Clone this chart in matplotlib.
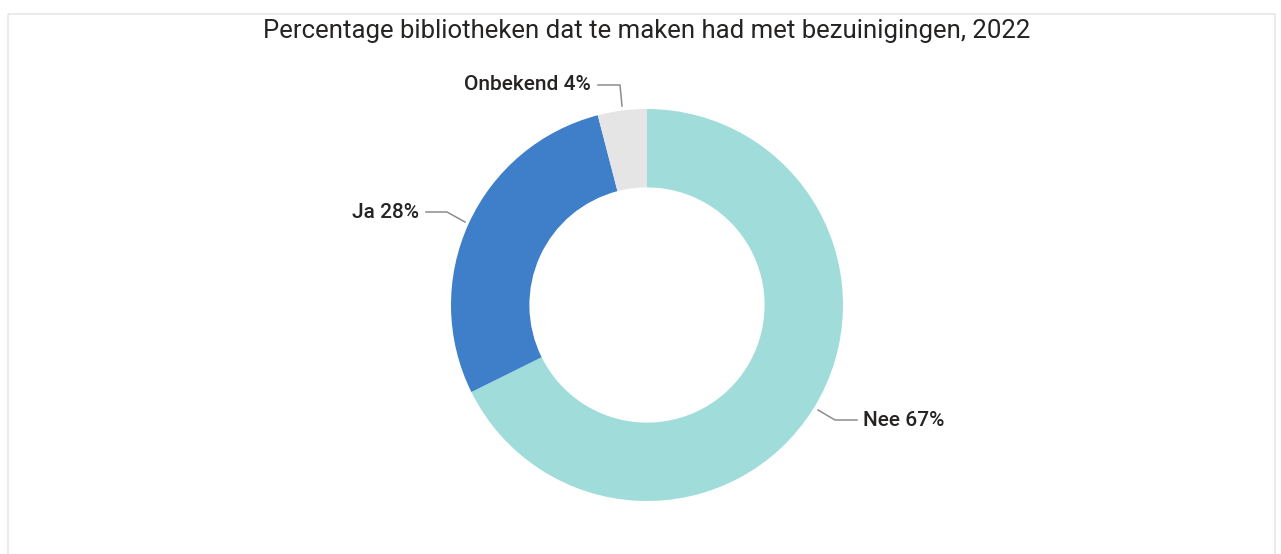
"""
Donut chart: percentage libraries facing budget cuts, 2022.
"""

import matplotlib.pyplot as plt
from matplotlib.patches import Rectangle

W, H = 1281, 554

categories = ["Nee", "Ja", "Onbekend"]
values = [67, 28, 4]
colors = ["#A0DCDA", "#3F7EC9", "#E5E5E5"]
title = "Percentage bibliotheken dat te maken had met bezuinigingen, 2022"

plt.rcParams['font.family'] = ['Roboto', 'DejaVu Sans']

fig = plt.figure(figsize=(W / 100, H / 100), dpi=100)
ax = fig.add_axes([0, 0, 1, 1])

"""Card border."""
ax.add_patch(Rectangle((8, 14), 1267, 560, fill=False, edgecolor="#E8E8E8", lw=1.2))

"""Donut (y axis inverted, so counterclock=True draws clockwise on screen)."""
cx, cy, r = 647, 305, 196
wedges, _ = ax.pie(values, colors=colors, startangle=-90, counterclock=True,
                   center=(cx, cy), radius=r, frame=True,
                   wedgeprops=dict(width=r * 0.4, linewidth=0))
ax.set_xlim(0, W)
ax.set_ylim(H, 0)
ax.set_aspect('equal')
ax.axis('off')

"""Labels with leader lines."""
label_style = dict(fontsize=15, color="#252423", fontweight="medium", va="center")
line_style = dict(color="#8C8C8C", lw=1.1)

ax.plot([598, 620, 622], [85, 85, 106], **line_style)
ax.text(591, 85, f"{categories[2]} {values[2]}%", ha="right", **label_style)

ax.plot([426, 447, 465], [212, 212, 222], **line_style)
ax.text(419, 212, f"{categories[1]} {values[1]}%", ha="right", **label_style)

ax.plot([818, 835, 857], [410, 420, 420], **line_style)
ax.text(863, 420, f"{categories[0]} {values[0]}%", ha="left", **label_style)

ax.text(647, 31, title, ha="center", va="center", fontsize=18.5, color="#252423")

fig.savefig("out.png", dpi=100)
